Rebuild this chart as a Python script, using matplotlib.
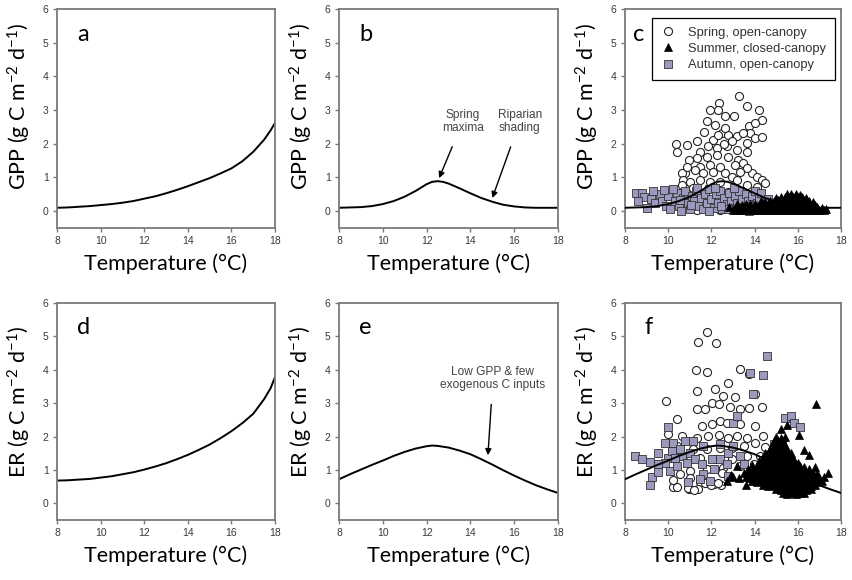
import matplotlib
matplotlib.use("Agg")
import matplotlib.pyplot as plt

LABEL_FONT = 'Lato'
plt.rcParams['mathtext.fontset'] = 'custom'
plt.rcParams['mathtext.rm'] = LABEL_FONT
plt.rcParams['mathtext.default'] = 'regular'

# ---------------- curve data ----------------
temp_a = [8, 8.5, 9, 9.5, 10, 10.5, 11, 11.5, 12, 12.5, 13, 13.5, 14, 14.5, 15, 15.5, 16, 16.5, 17, 17.5, 17.8, 18]
gpp_a = [0.10, 0.11, 0.13, 0.15, 0.18, 0.21, 0.25, 0.30, 0.37, 0.44, 0.53, 0.63, 0.74, 0.86, 0.98, 1.12, 1.27, 1.48, 1.76, 2.12, 2.40, 2.62]

temp_b = [8, 8.5, 9, 9.5, 10, 10.5, 11, 11.5, 12, 12.25, 12.5, 12.75, 13, 13.5, 14, 14.5, 15, 15.5, 16, 16.5, 17, 18]
gpp_b = [0.10, 0.11, 0.12, 0.15, 0.21, 0.30, 0.43, 0.60, 0.80, 0.87, 0.89, 0.87, 0.82, 0.68, 0.53, 0.39, 0.28, 0.19, 0.14, 0.11, 0.10, 0.10]

temp_d = [8, 8.5, 9, 9.5, 10, 10.5, 11, 11.5, 12, 12.5, 13, 13.5, 14, 14.5, 15, 15.5, 16, 16.5, 17, 17.5, 17.8, 18]
er_d = [0.68, 0.69, 0.71, 0.73, 0.77, 0.81, 0.87, 0.93, 1.01, 1.10, 1.20, 1.32, 1.45, 1.60, 1.76, 1.95, 2.16, 2.40, 2.68, 3.12, 3.45, 3.78]

temp_e = [8, 8.5, 9, 9.5, 10, 10.5, 11, 11.5, 12, 12.25, 12.5, 13, 13.5, 14, 14.5, 15, 15.5, 16, 16.5, 17, 17.5, 18]
er_e = [0.72, 0.87, 1.01, 1.15, 1.28, 1.42, 1.54, 1.64, 1.71, 1.73, 1.72, 1.67, 1.58, 1.47, 1.32, 1.16, 0.99, 0.83, 0.68, 0.54, 0.42, 0.31]

# ---------------- scatter data, panel c (GPP) ----------------
spring_gpp_t = [13.29, 12.35, 12.32, 11.94, 13.64, 14.22, 14.36, 12.63, 13.05, 13.74, 14.02, 13.79,
                11.66, 12.48, 12.79, 13.17, 12.09, 10.36, 10.39, 10.86, 11.35, 13.64, 14.02, 14.36,
                13.64, 13.17, 12.71, 12.28, 11.86, 11.47, 11.32, 11.78, 12.25, 12.79, 13.25, 13.48,
                13.09, 12.40, 11.94, 11.47, 11.24, 11.63, 12.09, 12.63, 10.78, 10.62, 10.70, 11.01,
                11.47, 11.94, 12.94, 13.87, 14.10, 14.33, 14.48, 14.10, 13.64, 10.62, 11.16, 11.78,
                12.32, 12.79, 13.25, 11.32, 12.40, 10.78, 13.40, 12.17, 11.81, 12.63, 13.48, 12.94,
                12.32, 10.98, 10.86, 13.64, 13.33, 12.40, 13.17, 12.60, 13.00]
spring_gpp_v = [3.41, 3.21, 3.01, 3.01, 3.11, 3.01, 2.72, 2.82, 2.82, 2.54, 2.62, 2.32,
                2.35, 2.32, 2.27, 2.22, 2.12, 1.99, 1.77, 1.95, 2.07, 2.02, 2.17, 2.19,
                1.77, 1.82, 1.92, 1.87, 1.92, 1.77, 1.57, 1.62, 1.67, 1.62, 1.52, 1.42,
                1.37, 1.32, 1.37, 1.32, 1.22, 1.12, 1.17, 1.12, 1.12, 1.12, 0.93, 0.88,
                0.93, 0.88, 1.02, 1.12, 1.02, 0.93, 0.83, 0.73, 0.78, 0.78, 0.68, 0.63,
                0.53, 0.58, 0.63, 0.03, 0.03, 0.28, 0.33, 2.57, 2.67, 2.47, 2.32, 2.07,
                2.27, 1.52, 1.32, 1.27, 1.17, 0.88, 0.93, 2.00, 0.45]

autumn_gpp_t = [8.5, 8.8, 8.9, 9.2, 9.4, 9.6, 9.7, 9.9, 10.0, 10.1, 10.3, 10.4, 10.5, 10.7, 10.8,
                10.9, 11.0, 11.1, 11.2, 11.3, 11.4, 11.5, 11.6, 11.7, 11.8, 11.9, 12.0, 12.1, 12.2,
                12.3, 12.4, 12.5, 12.6, 12.7, 12.8, 12.9, 13.0, 13.1, 13.2, 13.3, 13.4, 13.5, 13.6,
                13.7, 13.8, 13.9, 14.0, 14.1, 14.2, 14.3, 14.5, 14.6, 14.9, 15.2, 9.0, 9.3, 10.2,
                10.6, 11.35, 12.15, 12.75, 13.25, 13.75, 8.6, 9.8, 11.9, 10.55, 11.05, 12.45, 13.05]
autumn_gpp_v = [0.55, 0.55, 0.42, 0.35, 0.25, 0.50, 0.30, 0.15, 0.45, 0.05, 0.30, 0.55, 0.15, 0.40, 0.60,
                0.25, 0.05, 0.45, 0.30, 0.60, 0.15, 0.40, 0.05, 0.50, 0.25, 0.65, 0.35, 0.10, 0.50,
                0.25, 0.60, 0.05, 0.40, 0.20, 0.55, 0.30, 0.10, 0.45, 0.25, 0.60, 0.35, 0.10, 0.50,
                0.30, 0.15, 0.45, 0.60, 0.25, 0.40, 0.55, 0.20, 0.35, 0.15, 0.20, 0.10, 0.60, 0.65,
                0.00, 0.70, 0.70, 0.05, 0.05, 0.00, 0.30, 0.62, 0.00, 0.32, 0.18, 0.15, 0.68]

summer_gpp_t = [13.0, 13.2, 13.4, 13.6, 13.8, 14.0, 14.2, 14.4, 14.6, 14.8, 15.0, 15.2, 15.4, 15.6, 15.8, 16.0, 16.2, 16.4, 16.6, 16.8, 17.0, 17.2,
                12.8, 13.1, 13.3, 13.5, 13.7, 13.9, 14.1, 14.3, 14.5, 14.7, 14.9, 15.1, 15.3, 15.5, 15.7, 15.9, 16.1, 16.3, 16.5, 16.7, 16.9, 17.1, 17.3,
                13.2, 13.4, 13.6, 13.8, 14.0, 14.2, 14.4, 14.6, 14.8, 15.0, 15.2, 15.4, 15.6, 15.8, 16.0, 16.2, 16.4, 16.6, 16.8,
                14.3, 14.5, 14.7, 14.9, 15.1, 15.3, 15.5, 15.7, 15.9, 16.1, 16.3, 16.5, 16.7,
                15.0, 15.2, 15.4, 15.6, 15.8, 16.0, 16.2, 16.4,
                15.5, 15.7, 15.9, 16.1]
summer_gpp_v = [0.02, 0.03, 0.02, 0.04, 0.02, 0.03, 0.02, 0.04, 0.03, 0.02, 0.03, 0.02, 0.04, 0.03, 0.02, 0.03, 0.02, 0.04, 0.03, 0.02, 0.03, 0.02,
                0.12, 0.10, 0.13, 0.11, 0.12, 0.10, 0.13, 0.11, 0.12, 0.10, 0.13, 0.11, 0.12, 0.10, 0.13, 0.11, 0.12, 0.10, 0.13, 0.11, 0.12, 0.08, 0.05,
                0.21, 0.19, 0.22, 0.20, 0.21, 0.19, 0.22, 0.20, 0.21, 0.22, 0.20, 0.23, 0.21, 0.22, 0.20, 0.23, 0.21, 0.19, 0.17,
                0.30, 0.28, 0.31, 0.29, 0.32, 0.30, 0.33, 0.31, 0.32, 0.30, 0.33, 0.31, 0.27,
                0.40, 0.42, 0.41, 0.43, 0.42, 0.41, 0.43, 0.38,
                0.50, 0.52, 0.51, 0.49]

# ---------------- scatter data, panel f (ER) ----------------
spring_er_t = [11.79, 11.37, 12.22, 11.28, 11.79, 13.33, 13.75, 12.76, 11.32, 12.17, 12.56, 13.07,
               14.03, 9.90, 11.32, 11.71, 12.02, 12.33, 12.87, 13.33, 13.76, 14.34, 10.40, 11.55,
               12.02, 12.40, 12.71, 13.33, 14.03, 10.01, 10.63, 11.32, 11.86, 12.33, 12.79, 13.18,
               13.64, 14.41, 14.03, 13.49, 12.95, 12.40, 11.79, 11.17, 10.40, 10.70, 11.48, 12.17,
               12.95, 13.64, 14.26, 13.95, 13.33, 12.56, 11.79, 11.01, 10.55, 10.93, 11.48, 12.10,
               12.44, 10.24, 10.97, 11.40, 10.40, 10.90, 11.20, 11.70, 12.00, 12.30, 11.00, 10.20,
               12.50, 14.50, 14.90]
spring_er_v = [5.12, 4.83, 4.81, 3.99, 3.94, 4.01, 3.86, 3.61, 3.36, 3.41, 3.21, 3.19,
               3.26, 3.06, 2.82, 2.82, 3.01, 2.97, 2.87, 2.82, 2.84, 2.87, 2.54, 2.32,
               2.37, 2.47, 2.42, 2.37, 2.32, 2.07, 2.02, 1.97, 2.02, 2.04, 1.97, 2.02,
               1.97, 2.02, 1.82, 1.72, 1.67, 1.67, 1.64, 1.62, 1.72, 1.42, 1.37, 1.32,
               1.32, 1.42, 1.42, 1.17, 1.12, 1.07, 1.02, 0.98, 0.88, 0.68, 0.63, 0.58,
               0.55, 0.48, 0.43, 0.43, 0.50, 0.45, 0.40, 0.60, 0.55, 0.60, 0.75, 0.70,
               0.90, 1.70, 1.30]

autumn_er_t = [14.57, 14.41, 13.80, 13.92, 15.42, 15.70, 15.84, 16.08, 10.01, 8.46, 8.77, 9.16,
               9.16, 9.24, 9.55, 9.55, 9.85, 10.24, 10.01, 9.85, 10.09, 10.40, 10.63, 10.86,
               11.01, 10.55, 10.16, 11.25, 11.55, 12.02, 12.10, 12.40, 12.71, 12.79, 13.02, 13.02,
               13.18, 12.40, 13.33, 13.49, 11.63, 11.48, 11.94, 10.93, 12.79, 14.88, 15.26, 15.26,
               10.32, 9.55, 11.17, 10.78, 11.63]
autumn_er_v = [4.41, 3.83, 3.91, 3.28, 2.57, 2.62, 2.42, 2.30, 2.30, 1.42, 1.32, 1.24,
               0.55, 0.78, 0.93, 1.52, 1.82, 1.82, 1.37, 1.22, 0.98, 1.12, 1.42, 1.22,
               1.52, 1.62, 1.57, 1.32, 1.17, 1.32, 1.02, 1.32, 1.17, 1.52, 1.72, 2.42,
               2.62, 1.77, 1.42, 1.17, 0.88, 0.73, 0.68, 0.63, 0.83, 1.77, 1.42, 1.82,
               1.37, 1.17, 1.87, 1.87, 1.72]

summer_er_t = [15.3, 15.5, 15.7, 15.9, 16.1, 16.3,
               15.0, 15.2, 15.4, 15.6, 15.8, 16.0, 16.2, 16.4, 16.6,
               14.4, 14.6, 14.8, 15.0, 15.2, 15.4, 15.6, 15.8, 16.0, 16.2, 16.4, 16.6, 16.8,
               13.9, 14.1, 14.3, 14.5, 14.7, 14.9, 15.1, 15.3, 15.5, 15.7, 15.9, 16.1, 16.3, 16.5, 16.7, 16.9, 17.1,
               13.6, 13.8, 14.0, 14.2, 14.4, 14.6, 14.8, 15.0, 15.2, 15.4, 15.6, 15.8, 16.0, 16.2, 16.4, 16.6, 16.8, 17.0, 17.2,
               13.5, 13.7, 13.9, 14.1, 14.3, 14.5, 14.7, 14.9, 15.1, 15.3, 15.5, 15.7, 15.9, 16.1, 16.3, 16.5, 16.7, 16.9,
               13.7, 13.9, 14.1, 14.3, 14.5, 14.7, 14.9, 15.1, 15.3, 15.5, 15.7, 15.9, 16.1, 16.3, 16.5,
               13.9, 14.1, 14.3, 14.5, 14.7, 14.9, 15.1, 15.3, 15.5, 15.7, 15.9, 16.1, 16.3,
               14.2, 14.4, 14.6, 14.8, 15.0, 15.2, 15.4, 15.6, 15.8, 16.0,
               14.4, 14.6, 14.8, 15.0, 15.2, 15.4, 15.6, 15.8,
               14.5, 14.7, 14.9, 15.1, 15.3, 15.5, 15.7,
               14.7, 14.9, 15.1, 15.3, 15.5,
               14.8, 15.0, 15.2, 15.4,
               14.9, 15.1, 15.3,
               15.0, 15.2, 15.4,
               15.2, 15.5, 16.05, 16.3, 16.85, 17.4, 13.3, 12.9, 13.6, 12.7, 16.5, 16.8, 13.2, 13.0]
summer_er_v = [0.30, 0.28, 0.31, 0.29, 0.30, 0.32,
               0.42, 0.40, 0.43, 0.41, 0.42, 0.40, 0.43, 0.41, 0.44,
               0.54, 0.52, 0.55, 0.53, 0.54, 0.52, 0.55, 0.53, 0.54, 0.52, 0.55, 0.53, 0.56,
               0.66, 0.64, 0.67, 0.65, 0.66, 0.64, 0.67, 0.65, 0.66, 0.64, 0.67, 0.65, 0.66, 0.64, 0.67, 0.65, 0.68,
               0.78, 0.76, 0.79, 0.77, 0.78, 0.76, 0.79, 0.77, 0.78, 0.76, 0.79, 0.77, 0.78, 0.76, 0.79, 0.77, 0.78, 0.76, 0.80,
               0.90, 0.88, 0.91, 0.89, 0.90, 0.88, 0.91, 0.89, 0.90, 0.88, 0.91, 0.89, 0.90, 0.88, 0.91, 0.89, 0.90, 0.92,
               1.02, 1.00, 1.03, 1.01, 1.02, 1.00, 1.03, 1.01, 1.02, 1.00, 1.03, 1.01, 1.02, 1.00, 1.03,
               1.14, 1.12, 1.15, 1.13, 1.14, 1.12, 1.15, 1.13, 1.14, 1.12, 1.15, 1.13, 1.10,
               1.26, 1.24, 1.27, 1.25, 1.26, 1.24, 1.27, 1.25, 1.26, 1.22,
               1.38, 1.36, 1.39, 1.37, 1.38, 1.36, 1.39, 1.35,
               1.50, 1.48, 1.51, 1.49, 1.50, 1.48, 1.51,
               1.62, 1.60, 1.63, 1.61, 1.62,
               1.74, 1.72, 1.75, 1.73,
               1.86, 1.84, 1.87,
               1.98, 1.96, 1.99,
               2.22, 2.35, 2.05, 1.60, 2.98, 0.92, 0.75, 0.85, 0.55, 0.68, 1.45, 1.10, 1.12, 0.80]

# ---------------- text ----------------
panel_letters = ['a', 'b', 'c', 'd', 'e', 'f']
gpp_label = r'GPP (g C m$^{-2}$ d$^{-1}$)'
er_label = r'ER (g C m$^{-2}$ d$^{-1}$)'
x_label = 'Temperature (°C)'
series_names = ['Spring, open-canopy', 'Summer, closed-canopy', 'Autumn, open-canopy']
x_ticks = [8, 10, 12, 14, 16, 18]
y_ticks = [0, 1, 2, 3, 4, 5, 6]

W, H = 852, 580
fig = plt.figure(figsize=(W / 100, H / 100), dpi=100)

lefts = [57, 339, 625]
widths = [218, 219, 216]
tops = [9, 303]
heights = [219, 217]

axes = []
for r in range(2):
    for c in range(3):
        ax = fig.add_axes([lefts[c] / W, (H - tops[r] - heights[r]) / H, widths[c] / W, heights[r] / H])
        axes.append(ax)

spine_col = '#7a7a7a'
tick_col = '#3a3a3a'
letter_x = [0.092, 0.092, 0.035, 0.092, 0.092, 0.092]
ylabel_y = [0.557, 0.557, 0.557, 0.545, 0.545, 0.545]

for i, ax in enumerate(axes):
    ax.set_xlim(8, 18)
    ax.set_ylim(-0.5, 6)
    ax.set_xticks(x_ticks)
    ax.set_yticks(y_ticks)
    for s in ax.spines.values():
        s.set_color(spine_col)
        s.set_linewidth(1.3)
    ax.tick_params(direction='out', length=3, width=1, color=spine_col, labelcolor=tick_col,
                   labelsize=7.5, pad=3)
    for lab in ax.get_xticklabels() + ax.get_yticklabels():
        lab.set_fontfamily('Liberation Sans')
    ax.set_xlabel(x_label, fontfamily=LABEL_FONT, fontsize=15.5, labelpad=5)
    ax.set_ylabel(gpp_label if i < 3 else er_label, fontfamily=LABEL_FONT, fontsize=15.5)
    ax.yaxis.set_label_coords(-0.11, ylabel_y[i])
    ax.text(letter_x[i], 0.885, panel_letters[i], transform=ax.transAxes, fontfamily=LABEL_FONT,
            fontsize=17, ha='left', va='center')

lw = 1.4
sq_col = '#9b99bd'

def scatter_panel(ax, st, sv, at, av, ut, uv):
    ax.plot(st, sv, linestyle='none', marker='o', ms=5.8, mfc='white', mec='#222222', mew=0.8,
            label=series_names[0], zorder=2)
    ax.plot(at, av, linestyle='none', marker='s', ms=5.4, mfc=sq_col, mec='#333333', mew=0.6,
            label=series_names[2], zorder=3)
    ax.plot(ut, uv, linestyle='none', marker='^', ms=6.2, mfc='black', mec='black', mew=0.5,
            label=series_names[1], zorder=4)

axes[0].plot(temp_a, gpp_a, color='black', lw=lw)
axes[1].plot(temp_b, gpp_b, color='black', lw=lw)
scatter_panel(axes[2], spring_gpp_t, spring_gpp_v, autumn_gpp_t, autumn_gpp_v, summer_gpp_t, summer_gpp_v)
axes[2].plot(temp_b, gpp_b, color='black', lw=lw, zorder=5)
axes[3].plot(temp_d, er_d, color='black', lw=lw)
axes[4].plot(temp_e, er_e, color='black', lw=lw)
scatter_panel(axes[5], spring_er_t, spring_er_v, autumn_er_t, autumn_er_v, summer_er_t, summer_er_v)
axes[5].plot(temp_e, er_e, color='black', lw=lw, zorder=5)

# legend for panel c
h, l = axes[2].get_legend_handles_labels()
leg = axes[2].legend([h[0], h[2], h[1]], [series_names[0], series_names[1], series_names[2]],
                     loc='upper left', bbox_to_anchor=(0.125, 0.96), borderaxespad=0,
                     prop={'family': 'Liberation Sans', 'size': 9.3}, frameon=True, fancybox=False,
                     framealpha=1, edgecolor='black', handlelength=1.0, handletextpad=1.1,
                     labelspacing=0.32, borderpad=0.7)
leg.get_frame().set_linewidth(0.9)
for t in leg.get_texts():
    t.set_color('#333333')

# annotations
ann_kw = dict(fontsize=8.6, fontfamily='Liberation Sans', color='#444444', ha='center', va='center',
              linespacing=1.1,
              arrowprops=dict(arrowstyle='-|>', color='black', lw=1.0, mutation_scale=9,
                              shrinkA=8, shrinkB=0))
axes[1].annotate('Spring\nmaxima', xy=(12.57, 0.98), xytext=(13.66, 2.67), **ann_kw)
axes[1].annotate('Riparian\nshading', xy=(15.0, 0.39), xytext=(16.26, 2.67), **ann_kw)
axes[4].annotate('Low GPP & few\nexogenous C inputs', xy=(14.8, 1.44), xytext=(15.03, 3.75), **ann_kw)

fig.savefig('out.png', dpi=100)
